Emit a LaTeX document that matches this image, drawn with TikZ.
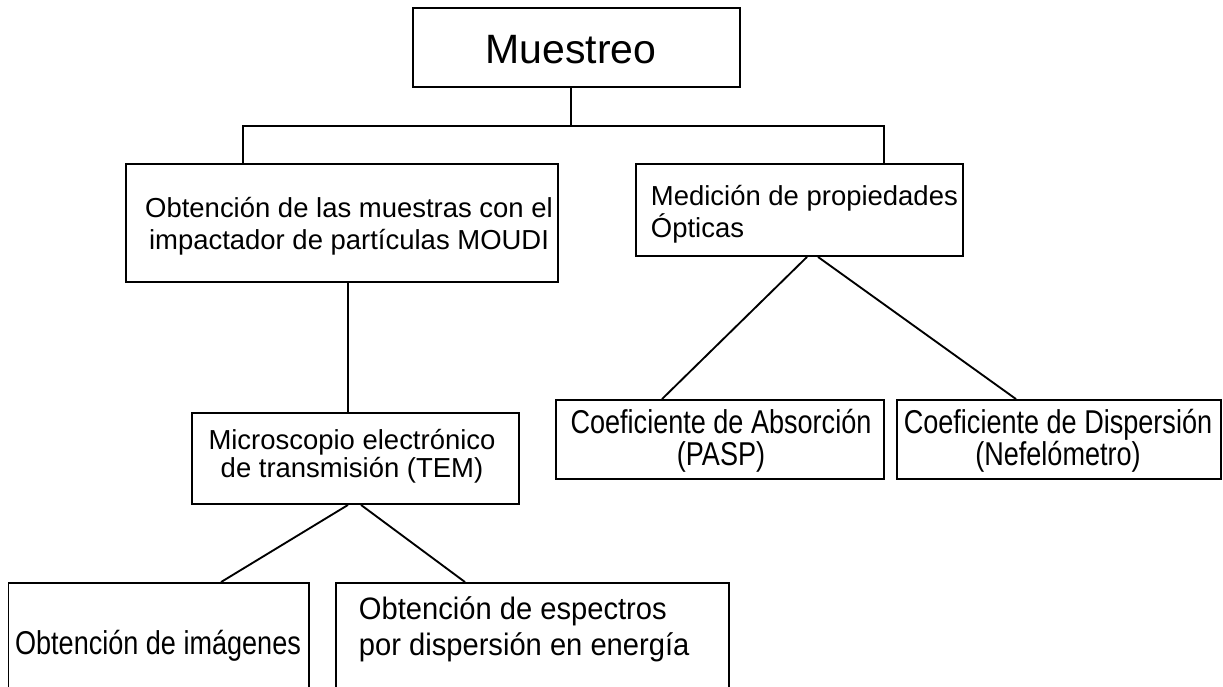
\documentclass[tikz,border=0pt]{standalone}
\usepackage{fontspec}
\setmainfont{Liberation Sans}
\newfontfamily\narrowsans[FakeStretch=0.82]{Liberation Sans}
\newfontfamily\semisans[FakeStretch=0.94]{Liberation Sans}

\tikzset{every picture/.style={line width=1.4pt}}
\tikzset{
  caja/.style={draw, rectangle, inner sep=0pt},
  texto/.style={inner sep=0pt, anchor=base},
  normal/.style={font=\fontsize{20.6}{24}\selectfont},
  angosto/.style={font=\narrowsans\fontsize{24.75}{24}\selectfont}
}

\begin{document}
\begin{tikzpicture}[x=0.75pt,y=0.75pt,yscale=-1,xscale=1]
\clip (0,0) rectangle (1223,686);

%Shape: Rectangle
\node[caja, minimum width=245.25pt, minimum height=59.25pt] (muestreo) at (576.5,47.5) {};
%Shape: Rectangle
\node[caja, minimum width=324pt, minimum height=88.5pt] (muestras) at (342,223) {};
%Shape: Rectangle
\node[caja, minimum width=245.25pt, minimum height=69pt] (optica) at (799.5,210) {};
%Shape: Rectangle
\node[caja, minimum width=245.25pt, minimum height=68.25pt] (tem) at (355.5,458.5) {};
%Shape: Rectangle
\node[caja, minimum width=246pt, minimum height=59.25pt] (absorcion) at (720,439.5) {};
%Shape: Rectangle
\node[caja, minimum width=243pt, minimum height=59.25pt] (dispersion) at (1059,439.5) {};
%Shape: Rectangle
\node[caja, minimum width=225.4pt, minimum height=102.75pt] (imagenes) at (158.75,651.5) {};
%Shape: Rectangle
\node[caja, minimum width=294.75pt, minimum height=102.75pt] (espectros) at (532.5,651.5) {};

\coordinate (rama) at (571,126);
\coordinate (izq) at (243,126);
\coordinate (der) at (884,126);

%Straight Lines
\draw (muestreo.south -| rama) -- (rama);
\draw (izq |- muestras.north) -- (izq) -- (der) -- (der |- optica.north);
%Straight Lines
\draw ([xshift=4.5pt]muestras.south) -- ([xshift=4.5pt]muestras.south |- tem.north);
%Straight Lines
\draw ([xshift=-5.625pt]tem.south) -- ([xshift=46.7pt]imagenes.north);
\draw ([xshift=4.125pt]tem.south) -- ([xshift=-50.6pt]espectros.north);
%Straight Lines
\draw ([xshift=5.625pt]optica.south) -- ([xshift=-43.5pt]absorcion.north);
\draw ([xshift=13.875pt]optica.south) -- ([xshift=-32.25pt]dispersion.north);

% Text Node
\node[texto, font=\fontsize{30.75}{36}\selectfont] (tmuestreo) at (571,63) {Muestreo};
% Text Node
\node[texto, normal, align=center] (tmuestras) at (349,249) {Obtención de las muestras con el\\impactador de partículas MOUDI};
% Text Node
\node[texto, normal, align=left, anchor=base west] (toptica) at (650,237) {Medición de propiedades\\Ópticas};
% Text Node
\node[texto, normal, align=center, font=\fontsize{20.6}{21}\selectfont] (ttem) at (352,477) {Microscopio electrónico\\de transmisión (TEM)};
% Text Node
\node[texto, angosto, align=center] (tabsorcion) at (721,465) {Coeficiente de Absorción\\(PASP)};
% Text Node
\node[texto, angosto, align=center] (tdispersion) at (1058,465) {Coeficiente de Dispersión\\(Nefelómetro)};
% Text Node
\node[texto, angosto] (timagenes) at (158,654) {Obtención de imágenes};
% Text Node
\node[texto, align=left, anchor=base west, font=\semisans\fontsize{23.25}{27}\selectfont] (tespectros) at (358,655) {Obtención de espectros\\por dispersión en energía};

\end{tikzpicture}
\end{document}
